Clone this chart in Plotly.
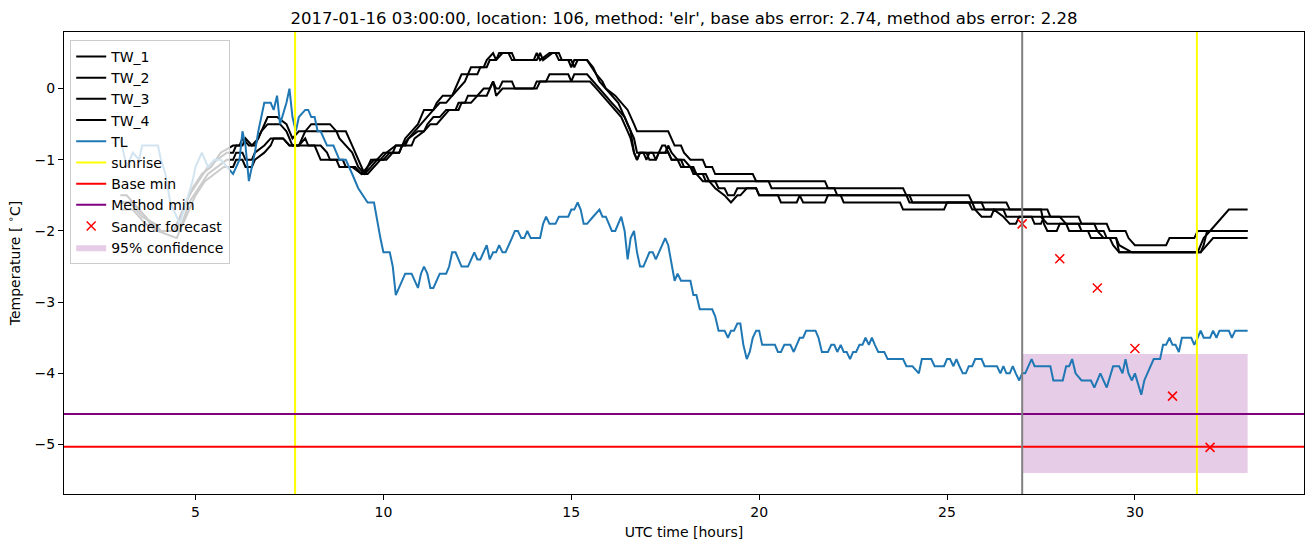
import plotly.graph_objects as go

# ---------------- data ----------------
TL = [(3.0,-0.7),(3.17,-1.1),(3.33,-0.9),(3.5,-1.0),(3.58,-0.8),(3.75,-0.8),(4.0,-0.8),(4.08,-1.0),(4.2,-1.2),
      (4.33,-1.6),(4.5,-1.8),(4.58,-1.9),(4.75,-1.6),(4.92,-1.3),(5.0,-1.1),(5.17,-0.9),(5.33,-1.1),(5.5,-1.0),
      (5.67,-1.0),(5.83,-1.1),(6.0,-1.2),(6.17,-1.0),(6.25,-0.6),(6.33,-0.8),(6.42,-1.3),(6.58,-0.9),(6.67,-0.6),
      (6.83,-0.2),(7.0,-0.2),(7.08,-0.3),(7.17,-0.1),(7.25,-0.5),(7.42,-0.2),(7.5,0.0),(7.58,-0.4),(7.67,-0.6),
      (7.75,-0.4),(7.92,-0.3),(8.0,-0.3),(8.08,-0.4),(8.17,-0.4),(8.25,-0.6),(8.33,-0.6),(8.5,-0.8),(8.67,-0.8),
      (8.83,-1.0),(9.0,-1.0),(9.17,-1.2),(9.33,-1.4),(9.58,-1.6),(9.75,-1.6),(9.92,-2.1),(10.0,-2.3),(10.17,-2.3),
      (10.25,-2.5),(10.33,-2.9),(10.58,-2.6),(10.75,-2.6),(10.92,-2.8),(11.0,-2.6),(11.08,-2.5),(11.17,-2.6),
      (11.25,-2.8),(11.33,-2.8),(11.5,-2.6),(11.67,-2.6),(11.75,-2.5),(11.83,-2.3),(11.92,-2.3),(12.08,-2.5),
      (12.25,-2.5),(12.42,-2.3),(12.5,-2.4),(12.58,-2.4),(12.75,-2.2),(12.83,-2.4),(12.92,-2.3),(13.0,-2.3),
      (13.08,-2.2),(13.17,-2.3),(13.25,-2.3),(13.42,-2.1),(13.5,-2.0),(13.58,-2.0),(13.67,-2.1),(13.75,-2.1),
      (13.83,-2.0),(13.92,-2.1),(14.17,-2.1),(14.25,-1.9),(14.33,-1.8),(14.42,-1.9),(14.58,-1.9),(14.67,-1.8),
      (14.92,-1.8),(15.0,-1.7),(15.08,-1.7),(15.17,-1.6),(15.25,-1.7),(15.33,-1.9),(15.42,-1.9),(15.58,-1.8),
      (15.75,-1.7),(15.83,-1.8),(15.92,-1.8),(16.08,-2.0),(16.17,-2.0),(16.33,-1.8),(16.42,-2.0),(16.5,-2.4),
      (16.58,-2.1),(16.67,-2.0),(16.75,-2.3),(16.83,-2.5),(16.92,-2.5),(17.08,-2.3),(17.17,-2.3),(17.25,-2.4),
      (17.5,-2.1),(17.58,-2.2),(17.67,-2.5),(17.75,-2.7),(17.83,-2.6),(17.92,-2.7),(18.17,-2.7),(18.25,-2.9),
      (18.33,-2.9),(18.42,-3.1),(18.75,-3.1),(18.83,-3.2),(18.92,-3.4),(19.08,-3.4),(19.17,-3.5),(19.25,-3.4),
      (19.33,-3.4),(19.42,-3.3),(19.5,-3.3),(19.58,-3.6),(19.67,-3.8),(19.75,-3.7),(19.83,-3.5),(19.92,-3.4),
      (20.0,-3.4),(20.08,-3.6),(20.42,-3.6),(20.5,-3.7),(20.58,-3.7),(20.67,-3.6),(20.83,-3.6),(20.92,-3.7),
      (21.0,-3.6),(21.08,-3.5),(21.17,-3.5),(21.25,-3.4),(21.5,-3.4),(21.58,-3.5),(21.67,-3.7),(21.83,-3.7),
      (21.92,-3.6),(22.0,-3.6),(22.08,-3.7),(22.17,-3.6),(22.25,-3.7),(22.33,-3.7),(22.42,-3.8),(22.5,-3.7),
      (22.58,-3.7),(22.67,-3.6),(22.75,-3.6),(22.83,-3.5),(22.92,-3.6),(23.0,-3.5),(23.08,-3.6),(23.17,-3.7),
      (23.33,-3.7),(23.42,-3.8),(23.83,-3.8),(23.92,-3.9),(24.08,-3.9),(24.25,-4.0),(24.33,-3.8),(24.58,-3.8),
      (24.67,-3.9),(24.92,-3.9),(25.0,-3.8),(25.08,-3.8),(25.17,-3.9),(25.25,-3.8),(25.33,-3.9),(25.42,-4.0),
      (25.5,-4.0),(25.58,-3.9),(25.67,-3.9),(25.75,-3.8),(25.92,-3.8),(26.0,-3.9),(26.33,-3.9),(26.42,-4.0),
      (26.5,-3.9),(26.58,-4.0),(26.67,-4.0),(26.75,-3.9),(26.83,-4.0),(26.92,-4.1),(27.0,-4.0),(27.08,-4.0),
      (27.25,-3.8),(27.33,-3.9),(27.75,-3.9),(27.83,-4.1),(28.08,-4.1),(28.17,-3.9),(28.25,-3.9),(28.33,-3.8),
      (28.42,-4.0),(28.58,-4.1),(28.83,-4.1),(28.92,-4.2),(29.08,-4.0),(29.25,-4.2),(29.42,-3.9),(29.58,-3.9),
      (29.67,-4.0),(29.75,-3.8),(29.83,-4.0),(29.92,-4.1),(30.0,-4.0),(30.17,-4.3),(30.25,-4.1),(30.5,-3.8),
      (30.67,-3.8),(30.75,-3.6),(30.83,-3.6),(30.92,-3.5),(31.0,-3.6),(31.08,-3.6),(31.17,-3.7),(31.25,-3.5),
      (31.5,-3.5),(31.58,-3.6),(31.67,-3.5),(31.75,-3.4),(31.83,-3.5),(32.0,-3.5),(32.08,-3.4),(32.17,-3.5),
      (32.25,-3.4),(32.5,-3.4),(32.58,-3.5),(32.67,-3.4),(33.0,-3.4)]

TW_1 = [(3.0,-1.5),(3.17,-1.5),(3.5,-1.7),(3.83,-1.9),(4.0,-2.0),(4.42,-2.0),(4.58,-1.8),(4.83,-1.5),(5.08,-1.3),
        (5.33,-1.1),(5.58,-1.0),(5.83,-0.9),(6.0,-0.9),(6.08,-0.8),(6.25,-0.8),(6.33,-0.7),(6.5,-0.8),(6.67,-0.7),
        (6.92,-0.4),(7.17,-0.4),(7.42,-0.5),(7.58,-0.7),(7.75,-0.6),(7.92,-0.6),(8.08,-0.5),(8.58,-0.5),(8.75,-0.6),
        (9.0,-0.6),(9.17,-0.8),(9.33,-1.0),(9.5,-1.2),(9.58,-1.1),(9.75,-1.0),(9.92,-1.0),(10.08,-0.9),(10.33,-0.8),
        (10.5,-0.8),(10.58,-0.7),(10.75,-0.6),(10.92,-0.5),(11.08,-0.3),(11.33,-0.3),(11.42,-0.2),(11.58,-0.1),
        (11.83,-0.1),(11.92,0.0),(12.08,0.2),(12.25,0.2),(12.33,0.3),(12.67,0.3),(12.75,0.4),(12.92,0.5),(13.0,0.4),
        (13.08,0.5),(13.42,0.5),(13.5,0.4),(14.0,0.4),(14.08,0.5),(14.17,0.4),(14.42,0.5),(14.67,0.5),(14.75,0.4),
        (14.92,0.4),(15.0,0.3),(15.08,0.4),(15.42,0.4),(15.67,0.2),(15.83,0.1),(15.92,0.0),(16.17,-0.1),(16.33,-0.2),
        (16.5,-0.3),(16.67,-0.5),(16.75,-0.6),(17.58,-0.6),(17.67,-0.7),(17.75,-0.8),(17.92,-0.8),(18.0,-0.9),
        (18.17,-1.0),(18.5,-1.0),(18.58,-1.1),(18.75,-1.1),(18.83,-1.2),(19.83,-1.2),(19.92,-1.3),(21.75,-1.3),
        (21.83,-1.4),(23.83,-1.4),(23.92,-1.5),(25.58,-1.5),(25.67,-1.6),(26.58,-1.6),(26.67,-1.7),(27.67,-1.7),
        (27.75,-1.8),(28.5,-1.8),(28.58,-1.9),(29.25,-1.9),(29.33,-2.0),(29.75,-2.0),(29.83,-2.1),(30.0,-2.2),
        (30.83,-2.2),(30.92,-2.1),(31.58,-2.1),(31.67,-2.0),(33.0,-2.0)]

TW_2 = [(3.0,-1.6),(3.25,-1.6),(3.58,-1.8),(3.92,-1.9),(4.08,-2.0),(4.5,-2.0),(4.67,-1.7),(4.92,-1.4),(5.17,-1.2),
        (5.42,-1.1),(5.67,-0.9),(6.0,-0.8),(6.17,-0.8),(6.25,-0.7),(6.42,-0.8),(6.58,-0.8),(6.75,-0.6),(6.92,-0.5),
        (7.25,-0.5),(7.42,-0.6),(7.58,-0.8),(7.75,-0.8),(7.92,-0.6),(8.08,-0.6),(8.75,-0.6),(8.83,-0.7),(9.0,-0.8),
        (9.17,-0.9),(9.33,-1.1),(9.5,-1.2),(9.67,-1.1),(9.83,-1.0),(10.0,-1.0),(10.17,-0.9),(10.42,-0.9),(10.5,-0.8),
        (10.67,-0.7),(10.83,-0.6),(11.0,-0.5),(11.17,-0.4),(11.33,-0.3),(11.5,-0.2),(11.67,-0.2),(11.83,-0.1),
        (12.0,0.0),(12.17,0.1),(12.25,0.2),(12.5,0.2),(12.58,0.3),(12.75,0.3),(12.83,0.4),(13.0,0.4),(13.17,0.5),
        (13.33,0.5),(13.42,0.4),(14.08,0.4),(14.17,0.5),(14.25,0.4),(14.5,0.5),(14.58,0.5),(14.67,0.4),(15.0,0.4),
        (15.08,0.3),(15.17,0.4),(15.42,0.4),(15.58,0.3),(15.75,0.1),(15.92,0.0),(16.08,-0.1),(16.25,-0.2),
        (16.42,-0.4),(16.58,-0.6),(16.67,-0.9),(16.75,-1.0),(16.83,-0.9),(16.92,-0.9),(17.0,-1.0),(17.08,-0.9),
        (17.33,-0.9),(17.42,-0.8),(17.5,-0.8),(17.58,-0.9),(17.67,-1.0),(18.0,-1.0),(18.17,-1.1),(18.33,-1.2),
        (18.5,-1.3),(18.67,-1.3),(18.83,-1.4),(19.08,-1.5),(19.25,-1.6),(19.42,-1.5),(19.5,-1.5),(19.67,-1.4),
        (19.92,-1.4),(20.0,-1.5),(20.5,-1.5),(20.58,-1.6),(21.0,-1.6),(21.08,-1.5),(21.17,-1.6),(21.75,-1.6),
        (21.83,-1.5),(22.17,-1.5),(22.25,-1.6),(23.75,-1.6),(23.83,-1.7),(24.92,-1.7),(25.0,-1.6),(25.67,-1.6),
        (25.75,-1.7),(25.92,-1.8),(26.17,-1.8),(26.25,-1.7),(26.5,-1.8),(26.67,-1.9),(26.83,-1.9),(26.92,-1.8),
        (27.25,-1.8),(27.33,-1.9),(27.5,-1.9),(27.58,-1.8),(28.0,-1.8),(28.17,-1.9),(28.5,-1.9),(28.58,-2.0),
        (29.17,-2.0),(29.25,-2.1),(29.5,-2.1),(29.58,-2.2),(29.92,-2.3),(31.67,-2.3),(31.83,-2.1),(32.0,-2.0),
        (32.17,-1.9),(32.33,-1.8),(32.5,-1.7),(33.0,-1.7)]

TW_3 = [(3.0,-1.7),(3.33,-1.7),(3.67,-1.9),(4.0,-2.0),(4.5,-2.1),(4.58,-2.0),(4.83,-1.6),(5.08,-1.4),(5.33,-1.2),
        (5.58,-1.1),(5.83,-1.0),(6.0,-1.0),(6.08,-0.9),(6.25,-0.9),(6.33,-1.0),(6.5,-1.0),(6.58,-0.9),(6.83,-0.8),
        (7.0,-0.7),(7.33,-0.7),(7.5,-0.8),(8.17,-0.8),(8.33,-1.0),(8.75,-1.0),(8.83,-1.1),(9.17,-1.1),(9.42,-1.2),
        (9.58,-1.2),(9.75,-1.1),(9.92,-1.0),(10.08,-1.0),(10.25,-0.9),(10.42,-0.9),(10.5,-0.8),(10.75,-0.8),
        (10.83,-0.7),(11.08,-0.6),(11.25,-0.5),(11.42,-0.5),(11.58,-0.4),(11.75,-0.3),(12.0,-0.3),(12.08,-0.2),
        (12.33,-0.2),(12.5,-0.1),(12.75,-0.1),(12.92,0.1),(13.0,0.0),(13.08,0.0),(13.17,0.1),(13.42,0.1),(13.5,0.0),
        (14.0,0.0),(14.08,0.1),(14.33,0.1),(14.42,0.2),(14.92,0.2),(15.0,0.1),(15.08,0.2),(15.42,0.2),(15.58,0.1),
        (15.75,0.0),(15.92,-0.1),(16.08,-0.2),(16.25,-0.3),(16.42,-0.4),(16.5,-0.5),(16.67,-0.7),(16.75,-0.9),
        (17.0,-0.9),(17.08,-1.0),(17.25,-1.0),(17.33,-0.9),(17.58,-0.9),(17.67,-1.0),(17.83,-1.0),(17.92,-1.1),
        (18.17,-1.1),(18.25,-1.2),(18.58,-1.2),(18.67,-1.3),(20.25,-1.3),(20.33,-1.4),(22.0,-1.4),(22.08,-1.5),
        (23.92,-1.5),(24.0,-1.6),(25.58,-1.6),(25.67,-1.7),(26.5,-1.7),(26.58,-1.8),(27.5,-1.8),(27.67,-1.9),
        (28.17,-1.9),(28.25,-2.0),(28.75,-2.0),(28.83,-2.1),(29.33,-2.1),(29.42,-2.2),(29.58,-2.3),(31.75,-2.3),
        (31.83,-2.2),(31.92,-2.0),(33.0,-2.0)]

TW_4 = [(3.0,-1.6),(3.33,-1.6),(3.67,-1.8),(3.92,-2.0),(4.58,-2.0),(4.75,-1.8),(5.0,-1.5),(5.25,-1.3),(5.5,-1.2),
        (5.75,-1.1),(6.0,-1.1),(6.08,-1.0),(6.25,-1.0),(6.33,-1.1),(6.5,-1.1),(6.58,-1.0),(6.83,-0.9),(7.0,-0.8),
        (7.08,-0.7),(7.33,-0.7),(7.5,-0.8),(7.75,-0.8),(7.92,-0.7),(8.0,-0.8),(8.33,-0.8),(8.5,-0.9),(8.58,-1.0),
        (8.92,-1.0),(9.0,-1.1),(9.25,-1.1),(9.42,-1.2),(9.58,-1.1),(9.67,-1.0),(9.83,-1.0),(10.0,-0.9),(10.25,-0.9),
        (10.33,-0.8),(10.58,-0.8),(10.67,-0.7),(10.92,-0.6),(11.08,-0.6),(11.17,-0.5),(11.33,-0.4),(11.5,-0.4),
        (11.67,-0.3),(11.92,-0.3),(12.0,-0.2),(12.17,-0.2),(12.25,-0.1),(12.5,-0.1),(12.67,0.0),(12.83,0.0),
        (12.92,0.1),(13.0,-0.1),(13.17,0.0),(14.08,0.0),(14.17,0.1),(15.5,0.1),(15.67,0.0),(15.83,-0.1),(16.0,-0.2),
        (16.17,-0.3),(16.33,-0.4),(16.5,-0.6),(16.58,-0.7),(16.67,-0.9),(16.75,-1.0),(16.83,-0.9),(17.17,-0.9),
        (17.25,-1.0),(17.33,-0.9),(17.5,-0.9),(17.58,-0.8),(17.67,-0.9),(17.83,-1.0),(17.92,-1.0),(18.0,-1.1),
        (18.25,-1.1),(18.33,-1.2),(18.5,-1.2),(18.58,-1.3),(18.83,-1.3),(18.92,-1.4),(19.08,-1.4),(19.17,-1.5),
        (19.33,-1.5),(19.42,-1.4),(19.92,-1.4),(20.0,-1.5),(24.0,-1.5),(24.08,-1.6),(25.92,-1.6),(26.0,-1.7),
        (27.5,-1.7),(27.58,-1.9),(27.67,-2.0),(27.92,-2.0),(28.0,-1.9),(28.92,-1.9),(29.0,-2.0),(29.17,-2.1),
        (29.5,-2.1),(29.58,-2.3),(31.75,-2.3),(31.92,-2.2),(32.08,-2.1),(33.0,-2.1)]

sunrise_hours = [7.65, 31.65]
forecast_start = 27.0
base_min = -5.03
method_min = -4.57
sander_hours = [27, 28, 29, 30, 31, 32]
sander_temps = [-1.90, -2.39, -2.80, -3.65, -4.32, -5.04]
ci_hours = [27.0, 33.0]
ci_lower = [-5.40, -5.40]
ci_upper = [-3.73, -3.73]

title_text = ("2017-01-16 03:00:00, location: 106, method: 'elr', "
              "base abs error: 2.74, method abs error: 2.28")

# ---------------- figure ----------------
FONT = "DejaVu Sans"
fig = go.Figure()

# confidence band (drawn first, underneath)
fig.add_trace(go.Scatter(x=ci_hours, y=ci_lower, mode="lines", line=dict(width=0),
                         showlegend=False, hoverinfo="skip"))
fig.add_trace(go.Scatter(x=ci_hours, y=ci_upper, mode="lines", line=dict(width=0),
                         fill="tonexty", fillcolor="rgba(128,0,128,0.2)",
                         name="95% confidence", legendrank=10))

for i, series in enumerate([TW_1, TW_2, TW_3, TW_4]):
    fig.add_trace(go.Scatter(x=[p[0] for p in series], y=[p[1] for p in series],
                             mode="lines", line=dict(color="black", width=2),
                             name=f"TW_{i+1}", legendrank=i + 1))

fig.add_trace(go.Scatter(x=[p[0] for p in TL], y=[p[1] for p in TL], mode="lines",
                         line=dict(color="#1f77b4", width=2), name="TL", legendrank=5))

fig.add_trace(go.Scatter(x=sander_hours, y=sander_temps, mode="markers",
                         marker=dict(symbol="x-thin", size=9, color="red",
                                     line=dict(width=1.5, color="red")),
                         name="Sander forecast", legendrank=9))

# vertical / horizontal reference lines as shapes
shapes = []
for k, h in enumerate(sunrise_hours):
    shapes.append(dict(type="line", xref="x", yref="paper", x0=h, x1=h, y0=0, y1=1,
                       line=dict(color="yellow", width=2), layer="above",
                       name="sunrise", showlegend=(k == 0), legendrank=6))
shapes.append(dict(type="line", xref="paper", yref="y", x0=0, x1=1, y0=base_min, y1=base_min,
                   line=dict(color="red", width=2), layer="above",
                   name="Base min", showlegend=True, legendrank=7))
shapes.append(dict(type="line", xref="paper", yref="y", x0=0, x1=1, y0=method_min, y1=method_min,
                   line=dict(color="purple", width=2), layer="above",
                   name="Method min", showlegend=True, legendrank=8))
shapes.append(dict(type="line", xref="x", yref="paper", x0=forecast_start, x1=forecast_start,
                   y0=0, y1=1, line=dict(color="gray", width=2), layer="above"))

fig.update_layout(
    width=1313, height=547,
    margin=dict(l=64, r=9, t=32, b=53),
    paper_bgcolor="white", plot_bgcolor="white",
    font=dict(family=FONT, size=14, color="black"),
    shapes=shapes,
    title=dict(text=title_text, x=(64 + 1304) / 2 / 1313, xanchor="center",
               y=1 - 18 / 547, yanchor="middle", yref="container",
               font=dict(family=FONT, size=16.5, color="black")),
    legend=dict(x=0.005, y=0.983, xanchor="left", yanchor="top", traceorder="normal",
                bgcolor="rgba(255,255,255,0.8)", bordercolor="#cccccc", borderwidth=1,
                font=dict(family=FONT, size=14), tracegroupgap=0),
    showlegend=True,
)

fig.update_xaxes(range=[1.5, 34.5], tickvals=[5, 10, 15, 20, 25, 30],
                 showline=True, linecolor="black", linewidth=1, mirror=True,
                 ticks="outside", ticklen=5, tickcolor="black", showgrid=False, zeroline=False,
                 tickfont=dict(family=FONT, size=14),
                 title=dict(text="UTC time [hours]", font=dict(family=FONT, size=14), standoff=8))
fig.update_yaxes(range=[-5.695, 0.795], tickvals=[-5, -4, -3, -2, -1, 0],
                 showline=True, linecolor="black", linewidth=1, mirror=True,
                 ticks="outside", ticklen=5, tickcolor="black", showgrid=False, zeroline=False,
                 tickfont=dict(family=FONT, size=14),
                 title=dict(text="Temperature [ <sup>∘</sup>C]", font=dict(family=FONT, size=14), standoff=10))

fig.write_html("out.html")
